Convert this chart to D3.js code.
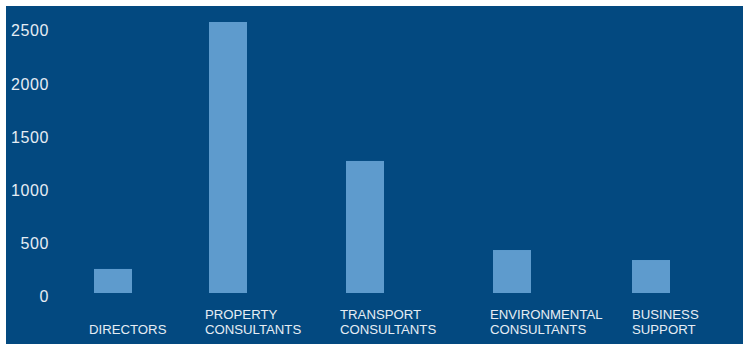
<!DOCTYPE html>
<html>
<head>
<meta charset="utf-8">
<script src="https://cdn.jsdelivr.net/npm/d3@7"></script>
<style>
  html, body { margin: 0; padding: 0; background: #ffffff; }
  svg { display: block; }
  text { font-family: "Liberation Sans", Arial, Helvetica, sans-serif; }
</style>
</head>
<body>
<svg id="chart" width="743" height="344"></svg>
<script>
// Staff numbers by team
const categories = [
  ["DIRECTORS"],
  ["PROPERTY", "CONSULTANTS"],
  ["TRANSPORT", "CONSULTANTS"],
  ["ENVIRONMENTAL", "CONSULTANTS"],
  ["BUSINESS", "SUPPORT"]
];
const staff = [226, 2547, 1241, 404, 310];
const yTicks = [0, 500, 1000, 1500, 2000, 2500];

const W = 743, H = 344;
const svg = d3.select("#chart");

// panel background
svg.append("rect")
  .attr("x", 6).attr("y", 6)
  .attr("width", W - 6).attr("height", H - 6)
  .attr("fill", "#034980");

const idx = d3.range(categories.length);
// column centres are spaced unevenly, following the label widths
const x = d3.scaleLinear()
  .domain(idx)
  .range([113, 228, 365, 512, 651]);
const barW = 38;

const y = d3.scaleLinear()
  .domain([0, 2500])
  .range([293, 27]);

// value axis labels
const yAxis = d3.axisLeft(y)
  .tickValues(yTicks)
  .tickSize(0)
  .tickPadding(0)
  .tickFormat(d3.format("d"));

const gy = svg.append("g")
  .attr("transform", "translate(49,0)")
  .call(yAxis);
gy.select(".domain").remove();
gy.selectAll("text")
  .attr("fill", "#e6edf4")
  .attr("font-size", 16)
  .attr("letter-spacing", 0.6)
  .attr("dy", "0.62em")
  .attr("transform", "translate(0,-1)");

// bars
svg.append("g").selectAll("rect")
  .data(staff)
  .join("rect")
  .attr("x", (d, i) => x(i) - barW / 2)
  .attr("width", barW)
  .attr("y", d => y(d))
  .attr("height", d => y(0) - y(d))
  .attr("fill", "#5e9bcd");

// category labels, bottom-aligned under each column
const labelOffsets = [-24, -23, -25, -22, -19];
const lg = svg.append("g");
categories.forEach((lines, i) => {
  const t = lg.append("text")
    .attr("x", x(i) + labelOffsets[i])
    .attr("fill", "#e6edf4")
    .attr("font-size", 13.2);
  lines.forEach((line, j) => {
    const row = lines.length - 1 - j; // 0 = bottom row
    t.append("tspan")
      .attr("x", x(i) + labelOffsets[i])
      .attr("y", 333.5 - row * 15)
      .text(line);
  });
});
</script>
</body>
</html>
